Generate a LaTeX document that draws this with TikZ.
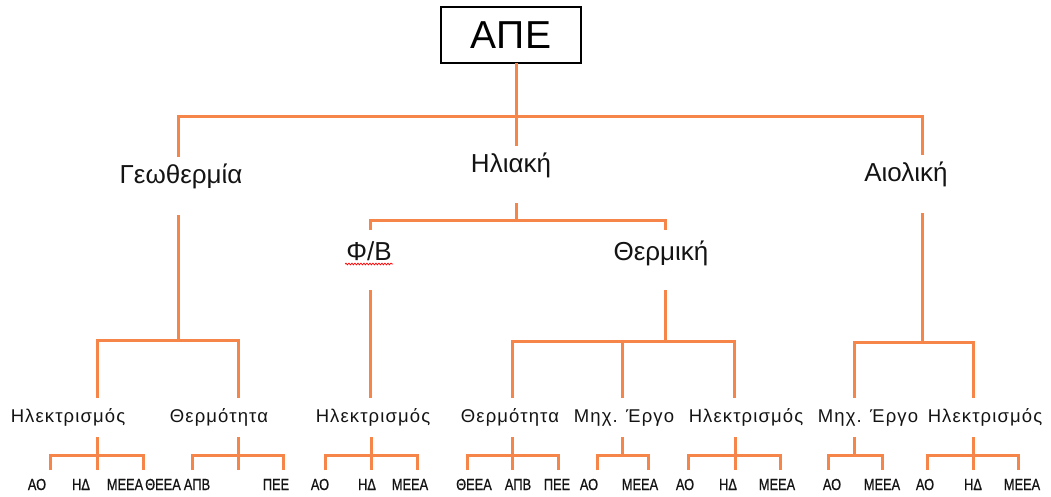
\documentclass[tikz,border=0pt]{standalone}
\usepackage{fontspec}
\setmainfont{Liberation Sans}
\newfontfamily\lthree[LetterSpace=6]{Liberation Sans}
\newfontfamily\lbot[FakeStretch=0.8,FakeBold=0.8]{Liberation Sans}
\usetikzlibrary{decorations.pathmorphing}
\definecolor{lineorange}{RGB}{246,133,74}
\definecolor{txt}{RGB}{20,20,20}
\begin{document}
\begin{tikzpicture}[x=1pt,y=-1pt,
  ln/.style={draw=lineorange,line width=3pt},
  lvlone/.style={anchor=base,inner sep=0pt,text=txt,font=\fontsize{26}{30}\selectfont},
  lvlthree/.style={anchor=base,inner sep=0pt,text=txt,font=\lthree\fontsize{18.5}{22}\selectfont},
  leaf/.style={anchor=base,inner sep=0pt,text=txt,font=\lbot\fontsize{16}{19}\selectfont},
  topbox/.style={draw=black,line width=1.4pt,minimum width=140pt,minimum height=56pt,inner sep=0pt,text=black,font=\fontsize{39}{44}\selectfont}]
\useasboundingbox[fill=white] (0,0) rectangle (1051,497);

% ---------------- nodes ----------------
\node[topbox] (ape) at (511,35) {ΑΠΕ};

\node[lvlone] (geo)  at (181,183) {Γεωθερμία};
\node[lvlone] (ilia) at (511,172) {Ηλιακή};
\node[lvlone] (aiol) at (906,182) {Αιολική};
\node[lvlone] (fb)   at (369,260) {Φ/Β};
\node[lvlone] (therm) at (661,260) {Θερμική};

\node[lvlthree] (el1) at (68,422)  {Ηλεκτρισμός};
\node[lvlthree] (th1) at (219,422) {Θερμότητα};
\node[lvlthree] (el2) at (373,422) {Ηλεκτρισμός};
\node[lvlthree] (th2) at (510,422) {Θερμότητα};
\node[lvlthree] (me1) at (624,422) {Μηχ. Έργο};
\node[lvlthree] (el3) at (746,422) {Ηλεκτρισμός};
\node[lvlthree] (me2) at (868,422) {Μηχ. Έργο};
\node[lvlthree] (el4) at (985,422) {Ηλεκτρισμός};

\foreach \n/\x/\t in {
  1/37/ΑΟ, 2/81/ΗΔ, 3/125/ΜΕΕΑ,
  4/163/ΘΕΕΑ, 5/197/ΑΠΒ, 6/276/ΠΕΕ,
  7/320/ΑΟ, 8/367/ΗΔ, 9/410/ΜΕΕΑ,
  10/474/ΘΕΕΑ, 11/518/ΑΠΒ, 12/557/ΠΕΕ,
  13/589/ΑΟ, 14/640/ΜΕΕΑ,
  15/685/ΑΟ, 16/728/ΗΔ, 17/777/ΜΕΕΑ,
  18/832/ΑΟ, 19/882/ΜΕΕΑ,
  20/925/ΑΟ, 21/973/ΗΔ, 22/1022/ΜΕΕΑ}
  {\node[leaf] (leaf\n) at (\x,490) {\t};}

% spell-check underline under Φ/Β
\draw[red,line width=0.7pt,decorate,decoration={snake,amplitude=0.9pt,segment length=3pt}]
  (345,264) -- (393,264);

% ---------------- connectors ----------------
% level 0 -> level 1
\coordinate (apeOut) at (516,63);
\coordinate (iliaIn) at (516,146);
\coordinate (topJ)   at (516,117);
\coordinate (geoIn)  at (178,157);
\coordinate (aiolIn) at (922,155);
\draw[ln] (apeOut) -- (iliaIn);
\draw[ln] (geoIn) -- (geoIn |- topJ) -- (aiolIn |- topJ) -- (aiolIn);

% Ηλιακή -> Φ/Β, Θερμική
\coordinate (iliaOut) at (516,203);
\coordinate (iliaJ)   at (516,220);
\coordinate (fbIn)    at (370,230);
\coordinate (thermIn) at (665,230);
\draw[ln] (iliaOut) -- (iliaJ);
\draw[ln] (fbIn) -- (fbIn |- iliaJ) -- (thermIn |- iliaJ) -- (thermIn);

% Γεωθερμία -> level 3
\coordinate (geoOut) at (178,215);
\coordinate (geoJ)   at (178,340);
\coordinate (el1In)  at (97,398);
\coordinate (th1In)  at (238,398);
\draw[ln] (geoOut) -- (geoJ);
\draw[ln] (el1In) -- (el1In |- geoJ) -- (th1In |- geoJ) -- (th1In);

% Φ/Β -> Ηλεκτρισμός
\coordinate (fbOut) at (370,290);
\coordinate (el2In) at (370,398);
\draw[ln] (fbOut) -- (el2In);

% Θερμική -> level 3
\coordinate (thermOut) at (665,290);
\coordinate (thermJ)   at (665,341);
\coordinate (th2In)    at (512,398);
\coordinate (me1In)    at (622,398);
\coordinate (el3In)    at (734,398);
\draw[ln] (thermOut) -- (thermJ);
\draw[ln] (th2In) -- (th2In |- thermJ) -- (el3In |- thermJ) -- (el3In);
\draw[ln] (me1In) -- (me1In |- thermJ);

% Αιολική -> level 3
\coordinate (aiolOut) at (922,213);
\coordinate (aiolJ)   at (922,342);
\coordinate (me2In)   at (854,398);
\coordinate (el4In)   at (973,398);
\draw[ln] (aiolOut) -- (aiolJ);
\draw[ln] (me2In) -- (me2In |- aiolJ) -- (el4In |- aiolJ) -- (el4In);

% level 3 -> leaves
\foreach \g/\l/\m/\r/\mid in {1/50/97/143/1, 2/192/238/283/1, 3/325/371/417/1,
  4/467/512/558/1, 5/597/622/648/0, 6/688/735/780/1, 7/828/854/882/0, 8/927/973/1018/1}
{
  \coordinate (g\g top) at (\m,437);
  \coordinate (g\g j)   at (\m,455);
  \coordinate (g\g l)   at (\l,470);
  \coordinate (g\g r)   at (\r,470);
  \coordinate (g\g m)   at (\m,470);
  \draw[ln] (g\g top) -- (g\g j);
  \draw[ln] (g\g l) -- (g\g l |- g\g j) -- (g\g r |- g\g j) -- (g\g r);
  \ifnum\mid=1 \draw[ln] (g\g j) -- (g\g m); \fi
}
\end{tikzpicture}
\end{document}
